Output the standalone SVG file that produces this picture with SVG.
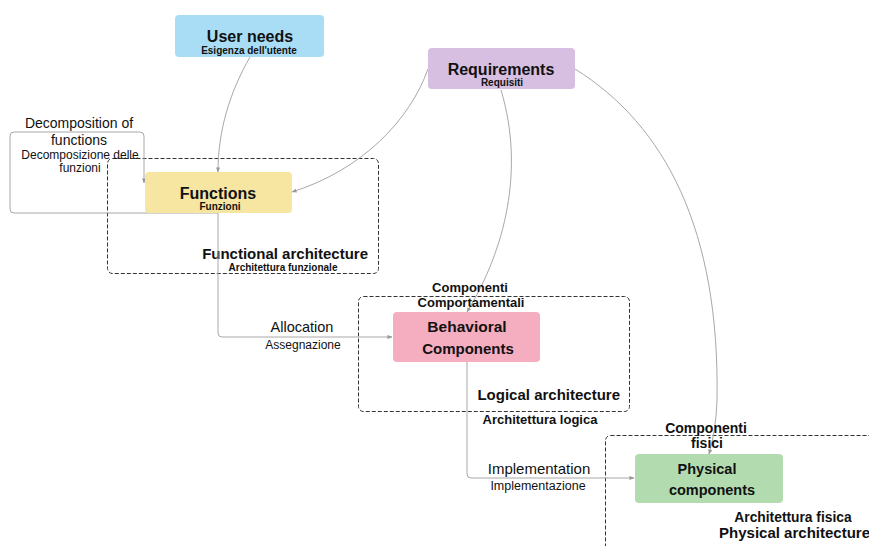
<svg xmlns="http://www.w3.org/2000/svg" width="869" height="546" viewBox="0 0 869 546">
<defs>
<marker id="arr" viewBox="0 0 6 6" refX="5.5" refY="3" markerWidth="5" markerHeight="5" orient="auto" markerUnits="userSpaceOnUse">
<path d="M0,0.5 L6,3 L0,5.5 z" fill="#999"/>
</marker>
<style>
text{font-family:"Liberation Sans",Arial,sans-serif;fill:#111;}
.b{font-weight:bold;}
.mid{text-anchor:middle;}
.end{text-anchor:end;}
.node{stroke:none;}
.arch{fill:none;stroke:#333;stroke-width:1;stroke-dasharray:4 2;}
.conn{fill:none;stroke:#a8a8a8;stroke-width:1;}
</style>
</defs>
<rect width="869" height="546" fill="#fff"/>

<g id="functional-architecture">
<rect class="arch" x="107.5" y="158.5" width="271" height="115" rx="5"/>
<text class="b end" x="368" y="259" font-size="15">Functional architecture</text>
<text class="b mid" x="283" y="271" font-size="10">Architettura funzionale</text>
</g>
<g id="logical-architecture">
<rect class="arch" x="358.5" y="296.5" width="271" height="115" rx="5"/>
<text class="b end" x="620" y="400" font-size="15">Logical architecture</text>
<text class="b mid" x="540" y="424" font-size="13">Architettura logica</text>
</g>
<g id="physical-architecture">
<rect class="arch" x="605.5" y="435.5" width="280" height="130" rx="5"/>
<text class="b mid" x="793" y="522" font-size="13.8">Architettura fisica</text>
<text class="b end" x="870" y="538" font-size="15">Physical architecture</text>
</g>

<g id="connectors">
<path class="conn" d="M250,57 C230,92 218,130 218,172" marker-end="url(#arr)"/>
<path class="conn" d="M428,69 C410,120 362,170 292,192" marker-end="url(#arr)"/>
<path class="conn" d="M501,90 C525,170 505,250 467,312" marker-end="url(#arr)"/>
<path class="conn" d="M575,69 C665,125 720,230 717,400 Q716,430 709,454" marker-end="url(#arr)"/>
<path class="conn" d="M218,213 L14,213 Q10,213 10,209 L10,136 Q10,132 14,132 L140,132 Q144,132 144,136 L144,183" marker-end="url(#arr)"/>
<path class="conn" d="M218,213 L218,333 Q218,337 222,337 L392,337" marker-end="url(#arr)"/>
<path class="conn" d="M467,362 L467,474 Q467,478 471,478 L634,478" marker-end="url(#arr)"/>
</g>

<g id="user-needs">
<rect class="node" x="175" y="15" width="149" height="42" rx="4" fill="#a9ddf6"/>
<text class="b mid" x="250" y="42" font-size="16">User needs</text>
<text class="b mid" x="249" y="54" font-size="10">Esigenza dell'utente</text>
</g>
<g id="requirements">
<rect class="node" x="428" y="48" width="147" height="41" rx="4" fill="#d6bfe0"/>
<text class="b mid" x="501" y="75" font-size="16">Requirements</text>
<text class="b mid" x="502" y="86" font-size="10">Requisiti</text>
</g>
<g id="decomposition-label">
<text class="mid" x="79" y="128" font-size="14">Decomposition of</text>
<text class="mid" x="79" y="145" font-size="14">functions</text>
<text class="mid" x="80" y="159" font-size="12">Decomposizione delle</text>
<text class="mid" x="80" y="172" font-size="12">funzioni</text>
</g>
<g id="functions">
<rect class="node" x="145" y="172" width="147" height="41" rx="4" fill="#f6e6a2"/>
<text class="b mid" x="218" y="199" font-size="16">Functions</text>
<text class="b mid" x="220" y="210" font-size="10">Funzioni</text>
</g>
<g id="allocation-label">
<text class="mid" x="302" y="332" font-size="14.5">Allocation</text>
<text class="mid" x="303" y="349" font-size="12">Assegnazione</text>
</g>
<g id="behavioral-components">
<text class="b mid" x="470" y="292" font-size="13">Componenti</text>
<text class="b mid" x="471" y="307" font-size="13">Comportamentali</text>
<rect class="node" x="393" y="312" width="147" height="50" rx="4" fill="#f5adc0"/>
<text class="b mid" x="467" y="332" font-size="15.5">Behavioral</text>
<text class="b mid" x="468" y="354" font-size="15">Components</text>
</g>
<g id="implementation-label">
<text class="mid" x="539" y="474" font-size="15">Implementation</text>
<text class="mid" x="538" y="490" font-size="12.5">Implementazione</text>
</g>
<g id="physical-components">
<text class="b mid" x="706" y="433" font-size="14">Componenti</text>
<text class="b mid" x="707" y="448" font-size="14">fisici</text>
<rect class="node" x="635" y="454" width="148" height="49" rx="4" fill="#b2dcb0"/>
<text class="b mid" x="707" y="474" font-size="14.5">Physical</text>
<text class="b mid" x="712" y="495" font-size="14.5">components</text>
</g>
</svg>
